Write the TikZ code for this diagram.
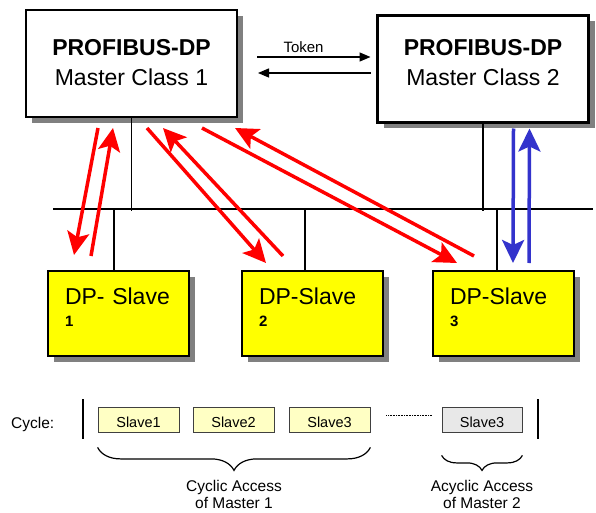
\documentclass[tikz,border=0pt]{standalone}
\usepackage{fontspec}
\setmainfont{Liberation Sans}
\usepackage{tikz}
\usetikzlibrary{shapes,arrows.meta,shadows,decorations.pathreplacing}
\definecolor{slaveyellow}{RGB}{255,255,0}
\definecolor{paleyellow}{RGB}{255,255,196}
\definecolor{palegray}{RGB}{232,232,232}
\definecolor{accblue}{RGB}{51,51,204}
\tikzstyle{masterblock}=[rectangle, draw, fill=white, line width=2.5pt, outer sep=0pt, align=center, minimum width=211pt, minimum height=107pt, font=\fontsize{23}{30}\selectfont, drop shadow={shadow xshift=6pt, shadow yshift=-6pt, fill=black!50, opacity=1}]
\tikzstyle{slaveblock}=[rectangle, draw, fill=slaveyellow, line width=2.5pt, outer sep=0pt, align=left, text width=107pt, inner xsep=17pt, inner ysep=0pt, minimum height=85pt, text depth=35.5pt, font=\fontsize{23}{22}\selectfont, drop shadow={shadow xshift=6pt, shadow yshift=-6pt, fill=black!50, opacity=1}]
\tikzstyle{cycleblock}=[rectangle, draw=black!75, fill=paleyellow, line width=0.8pt, minimum width=81pt, minimum height=25pt, inner sep=0pt, text height=16pt, text depth=0pt, font=\fontsize{14.5}{17}\selectfont]
\tikzstyle{acycleblock}=[cycleblock, fill=palegray, minimum width=80pt]
\tikzstyle{redarrow}=[draw=red, line width=3.5pt, -{Stealth[length=23pt, width=22pt, inset=5pt, fill=red]}]
\tikzstyle{bluearrow}=[draw=accblue, line width=3.5pt, -{Stealth[length=23pt, width=22pt, inset=5pt, fill=accblue]}]
\tikzstyle{tokenarrow}=[line width=1.3pt, -{Triangle[length=11pt, width=9pt]}]
\tikzstyle{busline}=[line width=1.1pt]
\tikzstyle{accessbrace}=[line width=1.2pt, decorate, decoration={brace, mirror}]
\tikzstyle{accesstext}=[align=center, inner sep=0pt, font=\fontsize{15.5}{17}\selectfont]

\begin{document}
\begin{tikzpicture}[x=1pt, y=-1pt]
\useasboundingbox (0,0) rectangle (596,513);

\node[masterblock, text depth=2pt] (m1) at (131.5,63.5) {\textbf{PROFIBUS-DP}\\Master Class 1};
\node[masterblock, text depth=13pt] (m2) at (483,69) {\textbf{PROFIBUS-DP}\\Master Class 2};
\node[slaveblock] (s1) at (118.5,313.5) {DP- Slave\\{\fontsize{15}{22}\selectfont\bfseries 1}};
\node[slaveblock] (s2) at (312.5,313.5) {DP-Slave\\{\fontsize{15}{22}\selectfont\bfseries 2}};
\node[slaveblock] (s3) at (503.5,313.5) {DP-Slave\\{\fontsize{15}{22}\selectfont\bfseries 3}};

% bus
\coordinate (busL) at (53,209);
\coordinate (busR) at (593,209);
\draw[busline] (busL) -- (busR);
\draw[busline] (m1.south) -- ([yshift=-2pt]m1.south |- busL);
\draw[busline] (m2.south) -- ([yshift=-2pt]m2.south |- busL);
\draw[busline] ([xshift=-4.5pt]s1.north) -- ([xshift=-4.5pt]s1.north |- busL);
\draw[busline] ([xshift=-7.5pt]s2.north) -- ([xshift=-7.5pt]s2.north |- busL);
\draw[busline] ([xshift=-6.5pt]s3.north) -- ([xshift=-6.5pt]s3.north |- busL);

\draw[tokenarrow] ([shift={(20,-6.5)}]m1.east) -- node[above=4pt, pos=0.41, inner sep=0pt, font=\fontsize{15}{17}\selectfont] (tok) {Token} ([shift={(-7,-12)}]m2.west);
\draw[tokenarrow] ([shift={(-7,4)}]m2.west) -- ([shift={(21,9.5)}]m1.east);

\draw[redarrow] ([shift={(72,11)}]m1.south west) -- ([shift={(26,-16)}]s1.north west);
\draw[redarrow] ([shift={(43,-15)}]s1.north west) -- ([shift={(87,11)}]m1.south west);
\draw[redarrow] ([shift={(121,11)}]m1.south west) -- ([shift={(24,-8)}]s2.north west);
\draw[redarrow] ([shift={(41,-15)}]s2.north west) -- ([shift={(137,11)}]m1.south west);
\draw[redarrow] ([shift={(176,11)}]m1.south west) -- ([shift={(24,-8)}]s3.north west);
\draw[redarrow] ([shift={(41,-15)}]s3.north west) -- ([shift={(209,11)}]m1.south west);
\draw[bluearrow] ([shift={(136,6)}]m2.south west) -- ([shift={(80,-8)}]s3.north west);
\draw[bluearrow] ([shift={(96,-8)}]s3.north west) -- ([shift={(152,6)}]m2.south west);

% cycle
\node[anchor=base west, inner sep=0pt, font=\fontsize{15.5}{17}\selectfont] (cyc) at (11,428) {Cycle:};
\node[cycleblock] (c1) at (138.5,419.5) {Slave1};
\node[cycleblock] (c2) at (233.5,419.5) {Slave2};
\node[cycleblock] (c3) at (329.5,419.5) {Slave3};
\node[acycleblock] (a3) at (482,419.5) {Slave3};
\draw[busline] (83,399) -- (83,439);
\draw[busline] (538,399) -- (538,439);
\draw[line width=0.8pt, dash pattern=on 0.8pt off 0.8pt] ([shift={(16,-4.5)}]c3.east) -- ([shift={(-10,-4.5)}]a3.west);

\draw[accessbrace, decoration={amplitude=23pt}] ([yshift=-15pt]c1.south west) -- node[accesstext, below=32pt] (cycacc) {Cyclic Access\\of Master 1} ([yshift=-15pt]c3.south east);
\draw[accessbrace, decoration={amplitude=15pt}] ([yshift=-23pt]a3.south west) -- node[accesstext, below=24pt] (acycacc) {Acyclic Access\\of Master 2} ([yshift=-23pt]a3.south east);

\end{tikzpicture}
\end{document}
